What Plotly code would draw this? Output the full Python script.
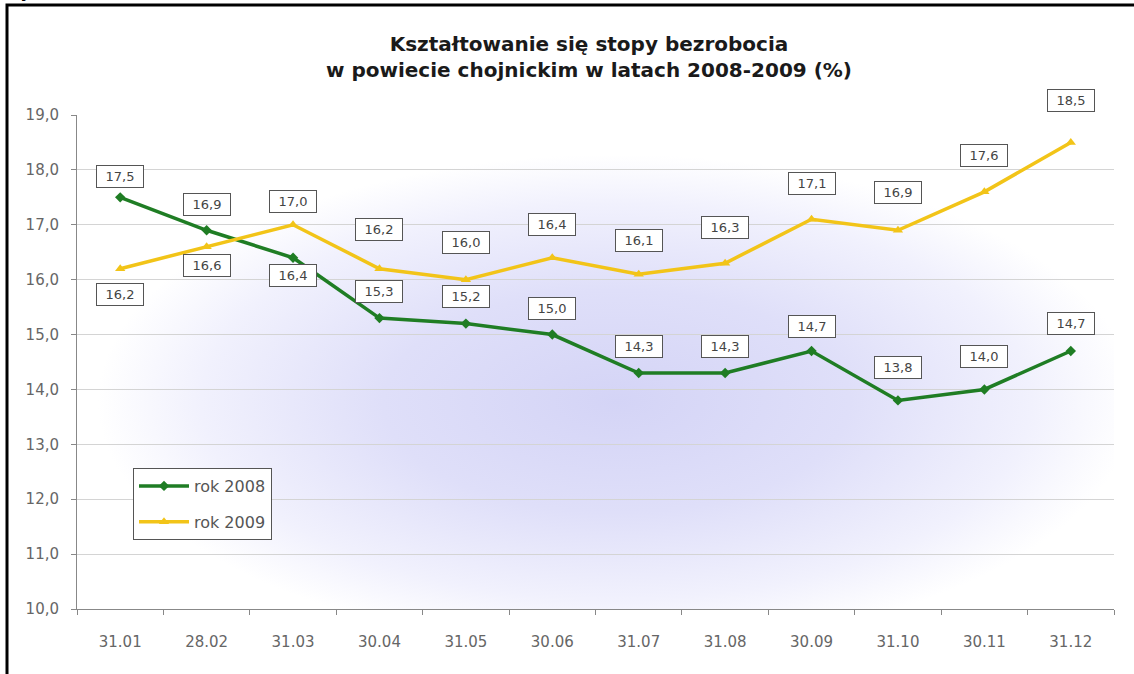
import base64
import plotly.graph_objects as go

# ---- data ----
categories = ["31.01", "28.02", "31.03", "30.04", "31.05", "30.06",
              "31.07", "31.08", "30.09", "31.10", "30.11", "31.12"]
rok_2008 = [17.5, 16.9, 16.4, 15.3, 15.2, 15.0, 14.3, 14.3, 14.7, 13.8, 14.0, 14.7]
rok_2009 = [16.2, 16.6, 17.0, 16.2, 16.0, 16.4, 16.1, 16.3, 17.1, 16.9, 17.6, 18.5]
y_ticks = [10, 11, 12, 13, 14, 15, 16, 17, 18, 19]

title_text = "Kształtowanie się stopy bezrobocia<br>w powiecie chojnickim w latach 2008-2009 (%)"

# label vertical offsets in px (styling, not data)
label_shift_2008 = [21, 26, -18, 27, 27, 26, 26, 26, 25, 33, 33, 28]
label_shift_2009 = [-26, -19, 23, 39, 37, 33, 34, 36, 36, 38, 36, 42]

W, H = 1134, 674
L, R, T, B = 77, 20, 115, 65
PW, PH = W - L - R, H - T - B

def px_x(px):
    return (px - L) / PW

def px_y(py):
    return (H - B - py) / PH

FONT = "DejaVu Sans, Verdana, sans-serif"
GREEN = "#1f7d24"
GOLD = "#f2c418"

# radial background gradient as an svg image
svg = (
    '<svg xmlns="http://www.w3.org/2000/svg" width="1037" height="494" preserveAspectRatio="none">'
    '<defs><radialGradient id="g" cx="0.52" cy="0.58" r="0.5" fx="0.52" fy="0.58">'
    '<stop offset="0" stop-color="#d4d4f6"/>'
    '<stop offset="0.45" stop-color="#dfdff9"/>'
    '<stop offset="0.8" stop-color="#f1f1fd"/>'
    '<stop offset="1" stop-color="#ffffff"/>'
    '</radialGradient></defs>'
    '<rect width="1037" height="494" fill="#ffffff"/>'
    '<rect width="1037" height="494" fill="url(#g)"/>'
    '</svg>'
)
svg_uri = "data:image/svg+xml;base64," + base64.b64encode(svg.encode()).decode()

fig = go.Figure()
fig.add_trace(go.Scatter(
    x=categories, y=rok_2008, mode="lines+markers", name="rok 2008",
    line=dict(color=GREEN, width=3.5),
    marker=dict(symbol="diamond", size=8, color=GREEN),
    legendgroup="a",
))
fig.add_trace(go.Scatter(
    x=categories, y=rok_2009, mode="lines+markers", name="rok 2009",
    line=dict(color=GOLD, width=3.5),
    marker=dict(symbol="triangle-up", size=9, color=GOLD),
    legendgroup="b",
))

annotations = []
for series, shifts in ((rok_2008, label_shift_2008), (rok_2009, label_shift_2009)):
    for idx, (val, sh) in enumerate(zip(series, shifts)):
        annotations.append(dict(
            x=idx, y=val, xref="x", yref="y",
            text=f"{val:.1f}".replace(".", ","),
            showarrow=False, yshift=sh,
            font=dict(family=FONT, size=13, color="#444"),
            bgcolor="#ffffff", bordercolor="#555", borderwidth=1,
            borderpad=2, width=42, height=17,
        ))

annotations.append(dict(
    x=px_x(2), y=px_y(4), xref="paper", yref="paper",
    xanchor="left", yanchor="bottom", showarrow=False,
    text="<b>Wykres 11</b>", font=dict(family=FONT, size=15, color="#000"),
))

fig.update_layout(
    width=W, height=H,
    margin=dict(l=L, r=R, t=T, b=B),
    paper_bgcolor="#ffffff",
    plot_bgcolor="rgba(0,0,0,0)",
    separators=",.",
    title=dict(
        text="<b>" + title_text + "</b>",
        x=px_x(589), xref="paper", xanchor="center",
        y=1 - 51 / H, yref="container", yanchor="top",
        font=dict(family=FONT, size=20, color="#1a1a1a"),
    ),
    showlegend=True,
    legend=dict(
        x=px_x(133), y=px_y(468), xanchor="left", yanchor="top",
        bgcolor="#ffffff", bordercolor="#555", borderwidth=1,
        font=dict(family=FONT, size=16, color="#555"),
        tracegroupgap=12, itemwidth=50,
    ),
    xaxis=dict(
        type="category", categoryorder="array", categoryarray=categories,
        range=[-0.5, len(categories) - 0.5], tickangle=0,
        showgrid=False, showline=True, linecolor="#888", linewidth=1,
        ticks="outside", ticklen=5, tickcolor="#888", tickson="boundaries",
        tickfont=dict(family=FONT, size=15, color="#666"),
        ticklabelstandoff=19, zeroline=False,
    ),
    yaxis=dict(
        range=[10, 19], tickvals=y_ticks, tickformat=".1f",
        showgrid=True, gridcolor="#d4d4d4", gridwidth=1,
        showline=True, linecolor="#888", linewidth=1,
        ticks="outside", ticklen=5, tickcolor="#888",
        tickfont=dict(family=FONT, size=15, color="#666"),
        ticklabelstandoff=9, zeroline=False,
    ),
    images=[dict(
        source=svg_uri, xref="paper", yref="paper", x=0, y=1,
        sizex=1, sizey=1, sizing="stretch", xanchor="left", yanchor="top",
        layer="below",
    )],
    shapes=[dict(
        type="rect", xref="paper", yref="paper",
        x0=px_x(7), x1=px_x(1140), y0=px_y(685), y1=px_y(5),
        line=dict(color="#000", width=3), fillcolor="rgba(0,0,0,0)",
        layer="above",
    )],
    annotations=annotations,
)

fig.write_html(
    "out.html",
    config={"displayModeBar": False},
    post_script="document.body.style.margin='0';document.body.style.overflow='hidden';",
)
